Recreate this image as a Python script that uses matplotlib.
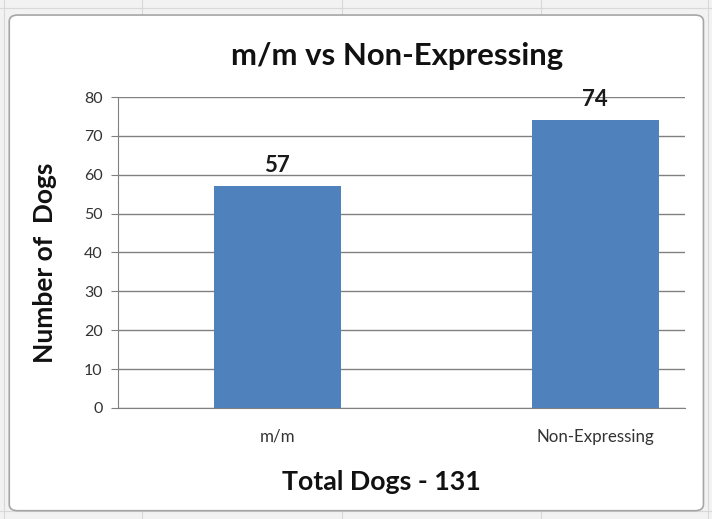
import matplotlib.pyplot as plt
from matplotlib.patches import FancyBboxPatch
from matplotlib.lines import Line2D

categories = ["m/m", "Non-Expressing"]
counts = [57, 74]
y_ticks = [0, 10, 20, 30, 40, 50, 60, 70, 80]

plt.rcParams['font.family'] = ['Lato', 'DejaVu Sans']

fig = plt.figure(figsize=(7.12, 5.19), dpi=100)
fig.patch.set_facecolor("#f2f2f2")

# faint worksheet grid behind the chart
for x in [0.005, 0.2, 0.48, 0.76, 0.995]:
    fig.add_artist(Line2D([x, x], [0, 1], color="#d8d8d8", lw=0.8, transform=fig.transFigure, zorder=0))
for y in [0.985, 0.015]:
    fig.add_artist(Line2D([0, 1], [y, y], color="#d8d8d8", lw=0.8, transform=fig.transFigure, zorder=0))

# chart area
frame = FancyBboxPatch((0.013, 0.016), 0.975, 0.955, boxstyle="round,pad=0,rounding_size=0.012",
                       transform=fig.transFigure, facecolor="white", edgecolor="#a6a6a6", lw=1.2, zorder=1)
fig.add_artist(frame)

ax = fig.add_axes([0.1657, 0.2139, 0.7963, 0.5992])
ax.set_facecolor("none")
ax.set_zorder(2)

x = list(range(len(categories)))
bars = ax.bar(x, counts, width=0.4, color="#4f81bd", zorder=3)
for b, v in zip(bars, counts):
    ax.text(b.get_x() + b.get_width() / 2, v + 2.6, str(v), ha="center", va="bottom",
            fontsize=16, fontweight="bold", color="#1a1a1a")

ax.set_xlim(-0.502, 1.283)
ax.set_ylim(0, 80)
ax.set_yticks(y_ticks)
ax.yaxis.grid(True, color="#808080", lw=1)
ax.set_axisbelow(True)
ax.set_xticks(x)
ax.set_xticklabels(categories, fontsize=12.2, color="#333333")
ax.tick_params(axis="x", length=0, pad=15)
ax.tick_params(axis="y", length=5, color="#808080", labelsize=11.5, labelcolor="#333333", pad=6)
for s in ["top", "right"]:
    ax.spines[s].set_visible(False)
for s in ["left", "bottom"]:
    ax.spines[s].set_color("#808080")

fig.text(0.558, 0.892, "m/m vs Non-Expressing", ha="center", va="center", fontsize=22.4, fontweight="bold", color="#111111")
fig.text(0.063, 0.493, "Number of  Dogs", ha="center", va="center", rotation=90, fontsize=19, fontweight="bold", color="#111111")
fig.text(0.535, 0.072, "Total Dogs - 131", ha="center", va="center", fontsize=19.3, fontweight="bold", color="#111111")

fig.savefig("out.png", dpi=100, facecolor=fig.get_facecolor())
